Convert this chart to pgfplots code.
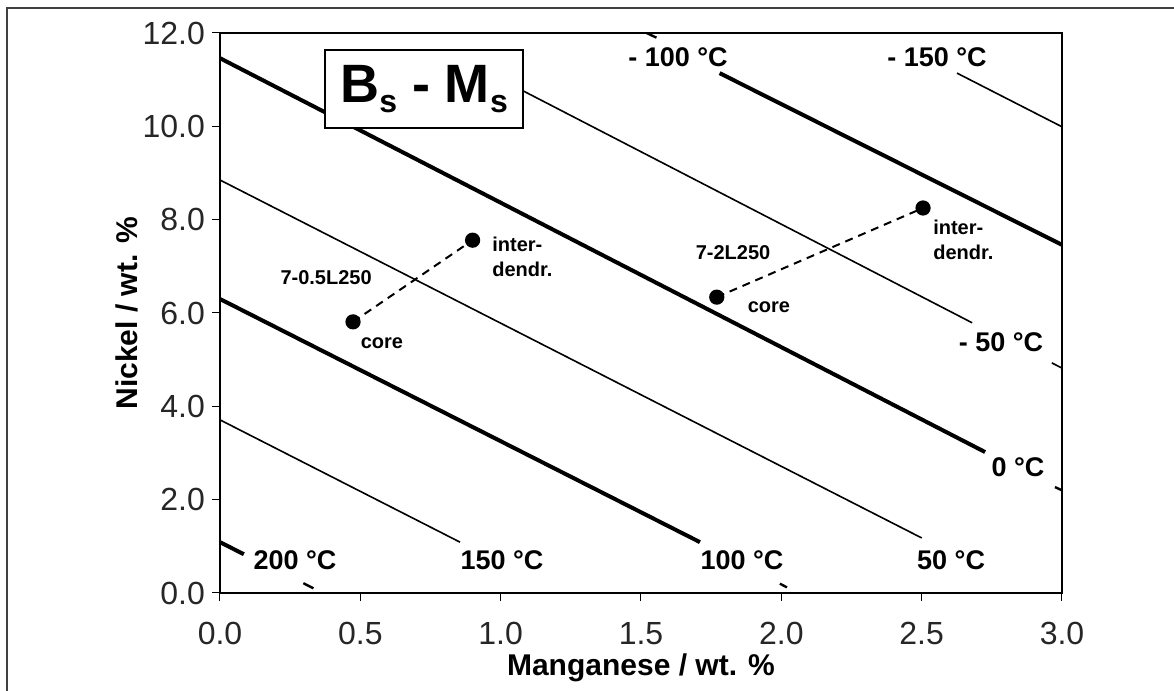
\documentclass[border=0pt]{standalone}
\usepackage{fontspec}
\setmainfont{Liberation Sans}
\usepackage{pgfplots}
\pgfplotsset{compat=1.18}
\begin{document}
\begin{tikzpicture}
\path[use as bounding box] (0,0) rectangle (587pt,345.5pt);
\draw[line width=0.6pt, black!75] (3.5pt,-5pt) -- (3.5pt,341.5pt) -- (600pt,341.5pt);
\begin{axis}[
  at={(110pt,49pt)}, anchor=south west,
  scale only axis, width=421pt, height=280pt,
  xmin=0, xmax=3, ymin=0, ymax=12,
  xtick={0,0.5,1,1.5,2,2.5,3}, ytick={0,2,4,6,8,10,12},
  xtick pos=left, ytick pos=left,
  tick align=outside, major tick length=4pt,
  axis line style={line width=1.3pt},
  tick style={line width=0.5pt, black},
  /pgf/number format/assume math mode=true,
  /pgf/number format/.cd, fixed, fixed zerofill, precision=1, /pgfplots/.cd,
  ticklabel style={font=\fontsize{16}{18}\selectfont, text=black!85},
  xticklabel style={yshift=-7pt},
  xlabel={Manganese / wt. \%},
  ylabel={Nickel / wt. \%},
  label style={font=\fontsize{15}{17}\selectfont\bfseries},
  xlabel style={at={(rel axis cs:0.5,0)}, anchor=base, yshift=-41.5pt},
  ylabel style={at={(axis description cs:-0.1105,0.5)}, anchor=center},
]
% thin lines
\addplot[black, line width=0.8pt] coordinates {(0,3.71) (0.855,1.09)};
\addplot[black, line width=0.8pt] coordinates {(0,8.85) (2.50,1.18)};
\addplot[black, line width=0.8pt] coordinates {(1.08,10.76) (2.68,5.79)};
\addplot[black, line width=0.8pt] coordinates {(2.964,4.93) (3,4.82)};
\addplot[black, line width=0.8pt] coordinates {(2.626,11.14) (3,9.99)};
% thick lines
\addplot[black, line width=2pt] coordinates {(0,1.09) (0.085,0.83)};
\addplot[black, line width=1.2pt] coordinates {(0.297,0.21) (0.333,0.10)};
\addplot[black, line width=2pt] coordinates {(0,6.3) (1.71,1.09)};
\addplot[black, line width=1.2pt] coordinates {(1.995,0.20) (2.02,0.12)};
\addplot[black, line width=2pt] coordinates {(0,11.46) (2.726,3.02)};
\addplot[black, line width=1.2pt] coordinates {(2.975,2.27) (3,2.2)};
\addplot[black, line width=2pt] coordinates {(1.78,11.14) (3,7.46)};
\addplot[black, line width=1.2pt] coordinates {(1.52,12) (1.555,11.9)};
% samples
\addplot[black, line width=1pt, dash pattern=on 4pt off 3pt, mark=*, mark size=3.3pt, mark options={solid, fill=black}] coordinates {(0.474,5.81) (0.90,7.56)};
\addplot[black, line width=1pt, dash pattern=on 4pt off 3pt, mark=*, mark size=3.3pt, mark options={solid, fill=black}] coordinates {(1.77,6.34) (2.505,8.25)};
% box
\node[draw=black, line width=0.6pt, fill=white, minimum width=99pt, minimum height=39pt, inner sep=0pt] at (axis cs:0.727,10.8)
  {\fontsize{27}{30}\selectfont\bfseries B\raisebox{-5pt}{\fontsize{16}{16}\selectfont s} - M\raisebox{-5pt}{\fontsize{16}{16}\selectfont s}};
% temperature labels
\begin{scope}[every node/.style={font=\fontsize{13.5}{15}\selectfont\bfseries, inner sep=0pt}]
\node at (axis cs:0.267,0.707) {200 °C};
\node at (axis cs:1.005,0.707) {150 °C};
\node at (axis cs:1.86,0.707) {100 °C};
\node at (axis cs:2.605,0.707) {50 °C};
\node at (axis cs:2.843,2.70) {0 °C};
\node at (axis cs:2.783,5.38) {- 50 °C};
\node at (axis cs:1.632,11.485) {- 100 °C};
\node at (axis cs:2.555,11.485) {- 150 °C};
\end{scope}
% sample labels
\begin{scope}[every node/.style={font=\fontsize{10}{12.5}\selectfont\bfseries, inner sep=0pt, align=left}]
\node at (axis cs:0.378,6.75) {7-0.5L250};
\node at (axis cs:0.577,5.36) {core};
\node[anchor=west] at (axis cs:0.969,7.2) {inter-\\dendr.};
\node at (axis cs:1.828,7.29) {7-2L250};
\node at (axis cs:1.956,6.13) {core};
\node[anchor=west] at (axis cs:2.540,7.56) {inter-\\dendr.};
\end{scope}
\end{axis}
\end{tikzpicture}
\end{document}
